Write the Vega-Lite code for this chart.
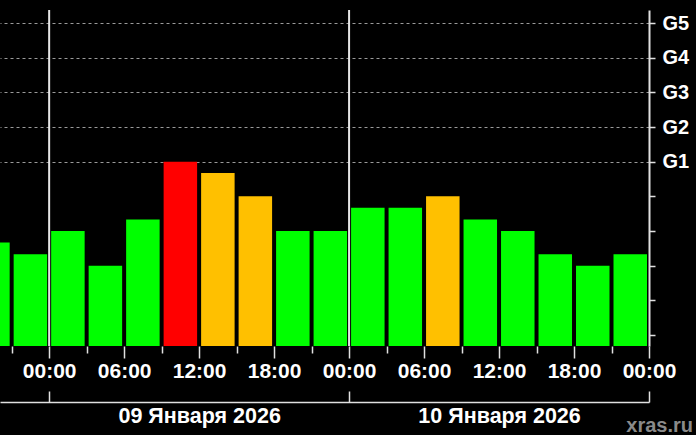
{
  "$schema": "https://vega.github.io/schema/vega-lite/v6.json",
  "width": 649,
  "height": 336,
  "autosize": {"type": "none"},
  "padding": {"left": 0, "top": 10, "right": 47, "bottom": 89},
  "background": "#000000",
  "config": {"view": {"stroke": null}, "font": "Liberation Sans"},
  "title": {
    "text": "xras.ru",
    "orient": "bottom",
    "anchor": "end",
    "frame": "group",
    "color": "#8a8a8a",
    "font": "Liberation Sans",
    "fontSize": 20,
    "fontWeight": "bold",
    "offset": 0,
    "dx": 44,
    "dy": -11
  },
  "layer": [
    {
      "data": {
        "values": [
          {"start": "2026-01-08T18:00:00Z", "end": "2026-01-08T21:00:00Z", "kp": 2.67},
          {"start": "2026-01-08T21:00:00Z", "end": "2026-01-09T00:00:00Z", "kp": 2.33},
          {"start": "2026-01-09T00:00:00Z", "end": "2026-01-09T03:00:00Z", "kp": 3},
          {"start": "2026-01-09T03:00:00Z", "end": "2026-01-09T06:00:00Z", "kp": 2},
          {"start": "2026-01-09T06:00:00Z", "end": "2026-01-09T09:00:00Z", "kp": 3.33},
          {"start": "2026-01-09T09:00:00Z", "end": "2026-01-09T12:00:00Z", "kp": 5},
          {"start": "2026-01-09T12:00:00Z", "end": "2026-01-09T15:00:00Z", "kp": 4.67},
          {"start": "2026-01-09T15:00:00Z", "end": "2026-01-09T18:00:00Z", "kp": 4},
          {"start": "2026-01-09T18:00:00Z", "end": "2026-01-09T21:00:00Z", "kp": 3},
          {"start": "2026-01-09T21:00:00Z", "end": "2026-01-10T00:00:00Z", "kp": 3},
          {"start": "2026-01-10T00:00:00Z", "end": "2026-01-10T03:00:00Z", "kp": 3.67},
          {"start": "2026-01-10T03:00:00Z", "end": "2026-01-10T06:00:00Z", "kp": 3.67},
          {"start": "2026-01-10T06:00:00Z", "end": "2026-01-10T09:00:00Z", "kp": 4},
          {"start": "2026-01-10T09:00:00Z", "end": "2026-01-10T12:00:00Z", "kp": 3.33},
          {"start": "2026-01-10T12:00:00Z", "end": "2026-01-10T15:00:00Z", "kp": 3},
          {"start": "2026-01-10T15:00:00Z", "end": "2026-01-10T18:00:00Z", "kp": 2.33},
          {"start": "2026-01-10T18:00:00Z", "end": "2026-01-10T21:00:00Z", "kp": 2},
          {"start": "2026-01-10T21:00:00Z", "end": "2026-01-11T00:00:00Z", "kp": 2.33}
        ]
      },
      "mark": {"type": "bar", "xOffset": 2, "x2Offset": -2, "clip": true},
      "encoding": {
        "x": {
          "field": "start",
          "type": "temporal",
          "scale": {"type": "utc", "domain": [1767902640000, 1768089600000]},
          "axis": {
            "orient": "bottom",
            "values": [1767906000000, 1767916800000, 1767927600000, 1767938400000, 1767949200000, 1767960000000, 1767970800000, 1767981600000, 1767992400000, 1768003200000, 1768014000000, 1768024800000, 1768035600000, 1768046400000, 1768057200000, 1768068000000, 1768078800000, 1768089600000],
            "labelExpr": "utchours(datum.value) % 6 === 0 ? utcFormat(datum.value, '%H:%M') : ''",
            "tickSize": {"condition": {"test": "utchours(datum.value) % 6 === 0", "value": 12}, "value": 7},
            "tickColor": "#e0e0e0",
            "tickWidth": 1.5,
            "domain": false,
            "grid": false,
            "labelColor": "#ffffff",
            "labelFont": "Liberation Sans",
            "labelFontSize": 21,
            "labelFontWeight": "bold",
            "labelPadding": 2,
            "labelFlush": false,
            "labelOverlap": false,
            "labelBound": false,
            "title": null
          }
        },
        "x2": {"field": "end"},
        "y": {
          "field": "kp",
          "type": "quantitative",
          "scale": {"domain": [-0.317, 9.375], "nice": false, "zero": false},
          "axis": {
            "orient": "right",
            "values": [0, 1, 2, 3, 4, 5, 6, 7, 8, 9],
            "labelExpr": "datum.value >= 5 ? 'G' + (datum.value - 4) : ''",
            "tickSize": 6,
            "tickColor": "#e0e0e0",
            "tickWidth": 1.5,
            "domain": true,
            "domainColor": "#e0e0e0",
            "domainWidth": 2,
            "grid": true,
            "gridColor": "#9a9a9a",
            "gridDash": [3, 3],
            "gridWidth": 1,
            "gridOpacity": {"condition": {"test": "datum.value >= 5", "value": 1}, "value": 0},
            "labelColor": "#ffffff",
            "labelFont": "Liberation Sans",
            "labelFontSize": 20,
            "labelFontWeight": "bold",
            "labelPadding": 7,
            "labelFlush": false,
            "labelOverlap": false,
            "title": null
          }
        },
        "y2": {"datum": -0.317},
        "color": {
          "field": "kp",
          "type": "quantitative",
          "scale": {"type": "threshold", "domain": [4, 5], "range": ["#00ff00", "#ffc000", "#ff0000"]},
          "legend": null
        }
      }
    },
    {
      "data": {"values": [{"day": "2026-01-09T00:00:00Z"}, {"day": "2026-01-10T00:00:00Z"}]},
      "mark": {"type": "rule", "color": "#e6e6e6", "strokeWidth": 2},
      "encoding": {
        "x": {
          "field": "day",
          "type": "temporal",
          "axis": {
            "orient": "bottom",
            "offset": 56,
            "values": [1767916800000, 1768003200000, 1768089600000],
            "tickSize": -11,
            "tickColor": "#e0e0e0",
            "tickWidth": 1.5,
            "domain": true,
            "domainColor": "#e0e0e0",
            "domainWidth": 1.5,
            "grid": false,
            "labelExpr": "utcdate(datum.value) === 9 ? '09 Января 2026' : (utcdate(datum.value) === 10 ? '10 Января 2026' : '')",
            "labelOffset": 150,
            "labelColor": "#ffffff",
            "labelFont": "Liberation Sans",
            "labelFontSize": 21.5,
            "labelFontWeight": "bold",
            "labelPadding": 14,
            "labelFlush": false,
            "labelOverlap": false,
            "labelBound": false,
            "title": null
          }
        }
      }
    },
    {
      "mark": {"type": "rule", "color": "#e0e0e0", "strokeWidth": 2},
      "encoding": {
        "y": {"datum": 9.375, "axis": null}
      }
    }
  ],
  "resolve": {"axis": {"x": "independent", "y": "independent"}}
}
